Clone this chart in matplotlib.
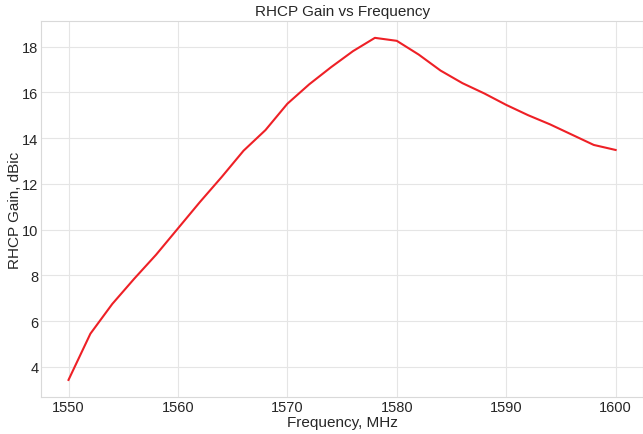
import matplotlib
matplotlib.use("Agg")
import matplotlib.pyplot as plt

freq = [1550, 1552, 1554, 1556, 1558, 1560, 1562, 1564, 1566, 1568, 1570, 1572, 1574,
        1576, 1578, 1580, 1582, 1584, 1586, 1588, 1590, 1592, 1594, 1596, 1598, 1600]
gain = [3.43, 5.45, 6.75, 7.85, 8.9, 10.05, 11.2, 12.3, 13.45, 14.35, 15.5, 16.35, 17.1,
        17.8, 18.38, 18.25, 17.65, 16.95, 16.4, 15.95, 15.45, 15.0, 14.6, 14.15, 13.7, 13.48]

plt.rcParams['font.family'] = ['Liberation Sans', 'DejaVu Sans']

fig = plt.figure(figsize=(6.43, 4.35), dpi=100)
ax = fig.add_axes([0.064, 0.085, 0.936, 0.865])
ax.plot(freq, gain, color='#ee2026', linewidth=1.5)
ax.set_title('RHCP Gain vs Frequency', fontsize=11, color='#262626', pad=4)
ax.set_xlabel('Frequency, MHz', fontsize=11, color='#262626', labelpad=1)
ax.set_ylabel('RHCP Gain, dBic', fontsize=11, color='#262626', labelpad=0)
ax.grid(True, color='#e5e5e5', linewidth=0.8)
ax.set_axisbelow(True)
for s in ax.spines.values():
    s.set_color('#d9d9d9')
    s.set_linewidth(0.8)
ax.tick_params(axis='both', length=0, labelsize=10.5, colors='#262626', pad=2)
fig.savefig('out.png', dpi=100)
